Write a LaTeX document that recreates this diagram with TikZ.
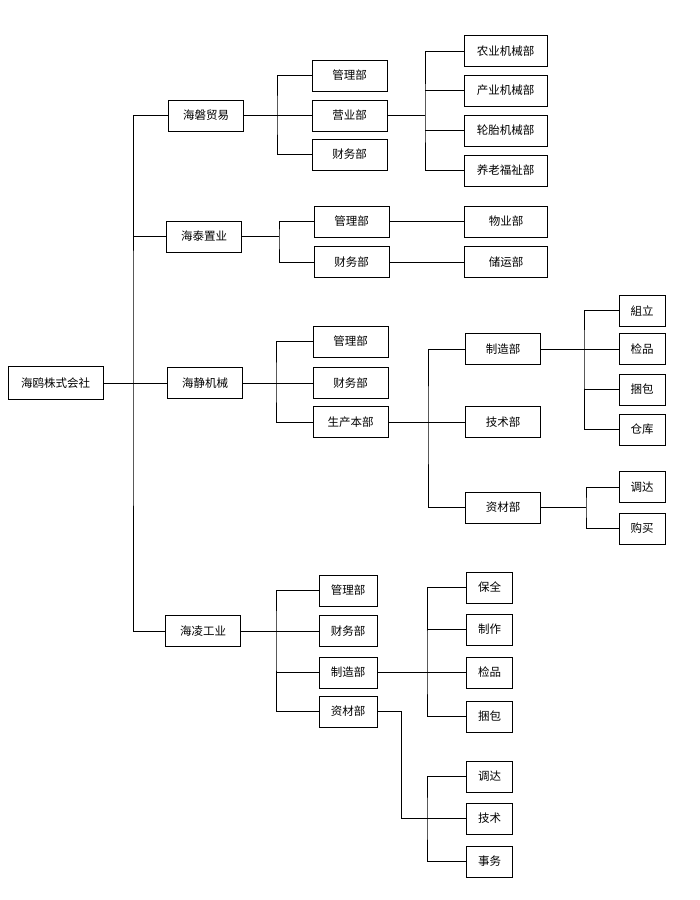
\documentclass[tikz,border=0pt]{standalone}
\usepackage{fontspec}
\setmainfont{Noto Sans CJK SC}
\begin{document}
\begin{tikzpicture}[x=1pt, y=-1pt, line width=0.8pt,
  box/.style={draw, minimum height=31, inner sep=0pt, font=\fontsize{11.5}{13}\selectfont},
  wide/.style={box, minimum width=75},
  long/.style={box, minimum width=83},
  small/.style={box, minimum width=46}]
\useasboundingbox (0,0) rectangle (700,900);
% top level
\node[box, minimum width=95, minimum height=33] (root) at (55.5,383) {海鸥株式会社};
\node[wide] (hp) at (206,115.5) {海磐贸易};
\node[wide] (ht) at (204,236.5) {海泰置业};
\node[wide] (hj) at (205,383) {海静机械};
\node[wide] (hl) at (203,631) {海凌工业};
\coordinate (mainJ) at (133,383);
\draw (root) -- (hj);
\draw (hp.west) -| (mainJ) |- (hl.west);
\draw (mainJ |- ht.west) -- (ht.west);

% 海磐贸易
\foreach \n/\y/\t in {a1/75.5/管理部, a2/115.5/营业部, a3/154.5/财务部}
  \node[wide] (\n) at (349.5,\y) {\t};
\foreach \n/\y/\t in {a21/51/农业机械部, a22/90.5/产业机械部, a23/130.5/轮胎机械部, a24/170.5/养老福祉部}
  \node[long] (\n) at (505.5,\y) {\t};
\coordinate (hpJ) at (277,115.5);
\draw (hp) -- (a2);
\draw (a1.west) -| (hpJ) |- (a3.west);
\coordinate (a2J) at (425,115.5);
\draw (a2) -- (a2J);
\draw (a21.west) -| (a2J) |- (a24.west);
\foreach \c in {a22,a23}
  \draw (a2J |- \c.west) -- (\c.west);

% 海泰置业
\node[wide] (b1) at (351.5,221.5) {管理部};
\node[wide] (b2) at (351.5,262) {财务部};
\node[long] (b11) at (506,221.5) {物业部};
\node[long] (b21) at (506,262) {储运部};
\coordinate (htJ) at (279,236.5);
\draw (ht) -- (htJ);
\draw (b1.west) -| (htJ) |- (b2.west);
\draw (b1) -- (b11);
\draw (b2) -- (b21);

% 海静机械
\foreach \n/\y/\t in {c1/341.5/管理部, c2/383/财务部, c3/422/生产本部}
  \node[wide] (\n) at (350.5,\y) {\t};
\coordinate (hjJ) at (276,383);
\draw (hj) -- (c2);
\draw (c1.west) -| (hjJ) |- (c3.west);
\foreach \n/\y/\t in {c31/349/制造部, c32/422/技术部, c33/507.5/资材部}
  \node[wide] (\n) at (503,\y) {\t};
\coordinate (c3J) at (428,422);
\draw (c3) -- (c32);
\draw (c31.west) -| (c3J) |- (c33.west);
\foreach \n/\y/\t in {c311/310.5/組立, c312/349/检品, c313/389.5/捆包, c314/429.5/仓库}
  \node[small] (\n) at (642,\y) {\t};
\coordinate (c31J) at (584,349);
\draw (c31) -- (c312);
\draw (c311.west) -| (c31J) |- (c314.west);
\draw (c31J |- c313.west) -- (c313.west);
\node[small] (c331) at (642,487) {调达};
\node[small] (c332) at (642,528.5) {购买};
\coordinate (c33J) at (586,507.5);
\draw (c33) -- (c33J);
\draw (c331.west) -| (c33J) |- (c332.west);

% 海凌工业
\foreach \n/\y/\t in {d1/590.5/管理部, d2/631/财务部, d3/672.5/制造部, d4/711.5/资材部}
  \node[box, minimum width=58] (\n) at (348,\y) {\t};
\coordinate (hlJ) at (276,631);
\draw (hl) -- (d2);
\draw (d1.west) -| (hlJ) |- (d4.west);
\draw (hlJ |- d3.west) -- (d3.west);
\foreach \n/\y/\t in {d31/587.5/保全, d32/629.5/制作, d33/672.5/检品, d34/716.5/捆包}
  \node[small] (\n) at (489.5,\y) {\t};
\coordinate (d3J) at (427,672.5);
\draw (d3) -- (d33);
\draw (d31.west) -| (d3J) |- (d34.west);
\draw (d3J |- d32.west) -- (d32.west);
\foreach \n/\y/\t in {d41/776.5/调达, d42/818.5/技术, d43/861.5/事务}
  \node[small] (\n) at (489.5,\y) {\t};
\coordinate (d4J) at (427,818.5);
\coordinate (d4K) at (401,711.5);
\draw (d4) -- (d4K) |- (d42);
\draw (d41.west) -| (d4J) |- (d43.west);
\end{tikzpicture}
\end{document}
